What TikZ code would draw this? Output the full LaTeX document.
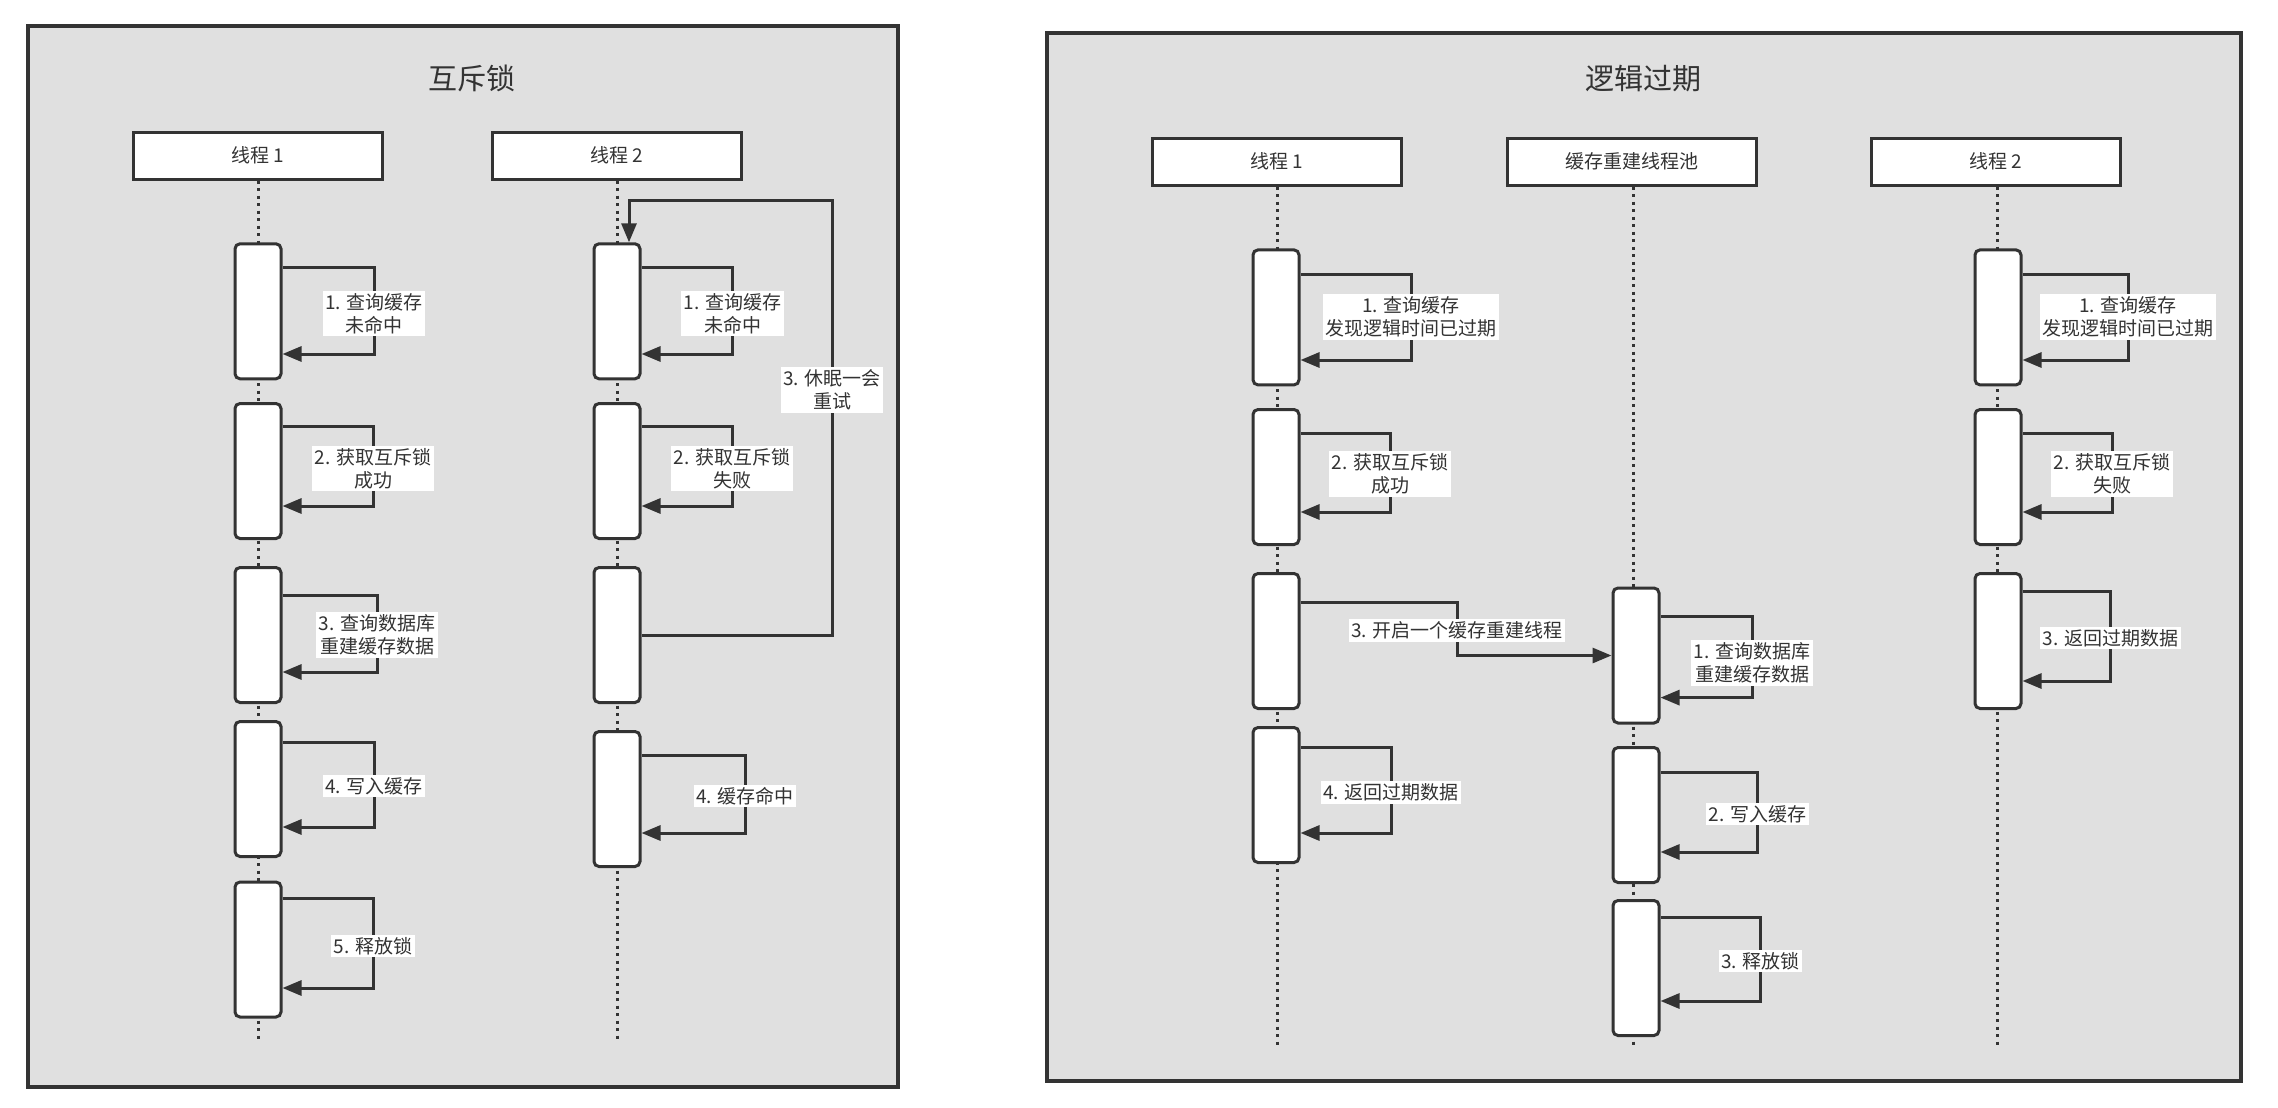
\documentclass[tikz,border=0pt]{standalone}
\usepackage{fontspec}
\setmainfont{Noto Sans CJK SC}
\usetikzlibrary{arrows.meta}
\pgfdeclarelayer{bg}
\pgfdeclarelayer{lines}
\pgfsetlayers{bg,lines,main}
\definecolor{ink}{RGB}{51,51,51}
\definecolor{panelgray}{RGB}{224,224,224}
\tikzset{
  panelbox/.style={draw=ink, fill=panelgray, line width=3.5pt},
  header/.style={draw=ink, fill=white, line width=3pt, minimum width=249pt, minimum height=47pt, inner sep=0pt, text=ink, font=\fontsize{19}{23}\selectfont},
  actbox/.style={draw=ink, fill=white, line width=3pt, rounded corners=5pt, minimum width=46pt, minimum height=135pt, inner sep=0pt},
  life/.style={draw=ink, line width=3pt, dash pattern=on 3pt off 4.5pt},
  msg/.style={draw=ink, line width=3pt, -{Triangle[length=19pt,width=15pt]}},
  lbl/.style={fill=white, inner sep=2.5pt, align=center, text=ink, font=\fontsize{19}{23}\selectfont},
  ttl/.style={text=ink, font=\fontsize{29}{33}\selectfont},
}
\begin{document}
\begin{tikzpicture}[x=1pt,y=-1pt]
\useasboundingbox (0,0) rectangle (2278,1108);
% panels
\begin{pgfonlayer}{bg}
\fill[white] (0,0) rectangle (2278,1108);
\draw[panelbox] (28,26) rectangle (898,1087);
\draw[panelbox] (1047,33) rectangle (2241,1081);
\end{pgfonlayer}
\node[ttl] (t1) at (472,78) {互斥锁};
\node[ttl] (t2) at (1643,79) {逻辑过期};
% ===== left panel =====
\node[header] (h1) at (257.5,155.5) {线程 1};
\node[header] (h2) at (616.5,155.5) {线程 2};
\coordinate (e1) at (258,1043);
\coordinate (e2) at (617,1043);
\begin{pgfonlayer}{lines}
\draw[life] (h1.south -| e1) -- (e1);
\draw[life] (h2.south -| e2) -- (e2);
\end{pgfonlayer}
\node[actbox] (m1) at (258,311.3) {};
\node[actbox] (m2) at (258,471) {};
\node[actbox] (m3) at (258,635) {};
\node[actbox] (m4) at (258,789) {};
\node[actbox] (m5) at (258,949.5) {};
\node[actbox] (n1) at (617,311.3) {};
\node[actbox] (n2) at (617,471) {};
\node[actbox] (n3) at (617,635) {};
\node[actbox] (n4) at (617,799) {};
% labels
\node[lbl] (lm1) at (374,313.5) {1. 查询缓存\\未命中};
\node[lbl] (lm2) at (373,468.6) {2. 获取互斥锁\\成功};
\node[lbl] (lm3) at (377,635) {3. 查询数据库\\重建缓存数据};
\node[lbl] (lm4) at (374,786) {4. 写入缓存};
\node[lbl] (lm5) at (373,946) {5. 释放锁};
\node[lbl] (ln1) at (732.5,313.5) {1. 查询缓存\\未命中};
\node[lbl] (ln2) at (732,468.6) {2. 获取互斥锁\\失败};
\node[lbl] (lr) at (832,390) {3. 休眠一会\\重试};
\node[lbl] (ln4) at (745,796) {4. 缓存命中};
\coordinate (rt) at (629,200);
\begin{pgfonlayer}{lines}
\draw[msg] (m1.east |- 0,267) -| (lm1.center) |- (m1.east |- 0,354);
\draw[msg] (m2.east |- 0,426) -| (lm2.center) |- (m2.east |- 0,506);
\draw[msg] (m3.east |- 0,595) -| (lm3.center) |- (m3.east |- 0,672);
\draw[msg] (m4.east |- 0,742) -| (lm4.center) |- (m4.east |- 0,827);
\draw[msg] (m5.east |- 0,898) -| (lm5.center) |- (m5.east |- 0,988);
\draw[msg] (n1.east |- 0,267) -| (ln1.center) |- (n1.east |- 0,354);
\draw[msg] (n2.east |- 0,426) -| (ln2.center) |- (n2.east |- 0,506);
\draw[msg] (n3.east) -| (lr.center) -- (lr.center |- rt) -- (rt) -- (rt |- n1.north);
\draw[msg] (n4.east |- 0,755) -| (ln4.center) |- (n4.east |- 0,833);
\end{pgfonlayer}
% ===== right panel =====
\node[header] (k1) at (1277,161.5) {线程 1};
\node[header] (k2) at (1632,161.5) {缓存重建线程池};
\node[header] (k3) at (1996,161.5) {线程 2};
\coordinate (f1) at (1277,1049);
\coordinate (f2) at (1633,1049);
\coordinate (f3) at (1997,1049);
\begin{pgfonlayer}{lines}
\draw[life] (k1.south -| f1) -- (f1);
\draw[life] (k2.south -| f2) -- (f2);
\draw[life] (k3.south -| f3) -- (f3);
\end{pgfonlayer}
\node[actbox] (p1) at (1276,317.4) {};
\node[actbox] (p2) at (1276,477) {};
\node[actbox] (p3) at (1276,641) {};
\node[actbox] (p4) at (1276,795) {};
\node[actbox] (q1) at (1636,655.5) {};
\node[actbox] (q2) at (1636,815) {};
\node[actbox] (q3) at (1636,968) {};
\node[actbox] (r1) at (1998,317.4) {};
\node[actbox] (r2) at (1998,477) {};
\node[actbox] (r3) at (1998,641) {};
\node[lbl] (lp1) at (1411,317) {1. 查询缓存\\发现逻辑时间已过期};
\node[lbl] (lp2) at (1390,474) {2. 获取互斥锁\\成功};
\node[lbl] (lp3) at (1457,630.5) {3. 开启一个缓存重建线程};
\node[lbl] (lp4) at (1391,792.5) {4. 返回过期数据};
\node[lbl] (lq1) at (1752,663) {1. 查询数据库\\重建缓存数据};
\node[lbl] (lq2) at (1757.5,814) {2. 写入缓存};
\node[lbl] (lq3) at (1760.5,961) {3. 释放锁};
\node[lbl] (lr1) at (2128,317) {1. 查询缓存\\发现逻辑时间已过期};
\node[lbl] (lr2) at (2112,474) {2. 获取互斥锁\\失败};
\node[lbl] (lr3) at (2110.5,638) {3. 返回过期数据};
\begin{pgfonlayer}{lines}
\draw[msg] (p1.east |- 0,274) -| (lp1.center) |- (p1.east |- 0,360);
\draw[msg] (p2.east |- 0,433) -| (lp2.center) |- (p2.east |- 0,512);
\draw[msg] (p3.east |- 0,602) -| (lp3.center) |- (q1.west);
\draw[msg] (p4.east |- 0,747.5) -| (lp4.center) |- (p4.east |- 0,833);
\draw[msg] (q1.east |- 0,616) -| (lq1.center) |- (q1.east |- 0,697.6);
\draw[msg] (q2.east |- 0,772) -| (lq2.center) |- (q2.east |- 0,852);
\draw[msg] (q3.east |- 0,917) -| (lq3.center) |- (q3.east |- 0,1001);
\draw[msg] (r1.east |- 0,274) -| (lr1.center) |- (r1.east |- 0,360);
\draw[msg] (r2.east |- 0,433) -| (lr2.center) |- (r2.east |- 0,512);
\draw[msg] (r3.east |- 0,591) -| (lr3.center) |- (r3.east |- 0,681);
\end{pgfonlayer}
\end{tikzpicture}
\end{document}
